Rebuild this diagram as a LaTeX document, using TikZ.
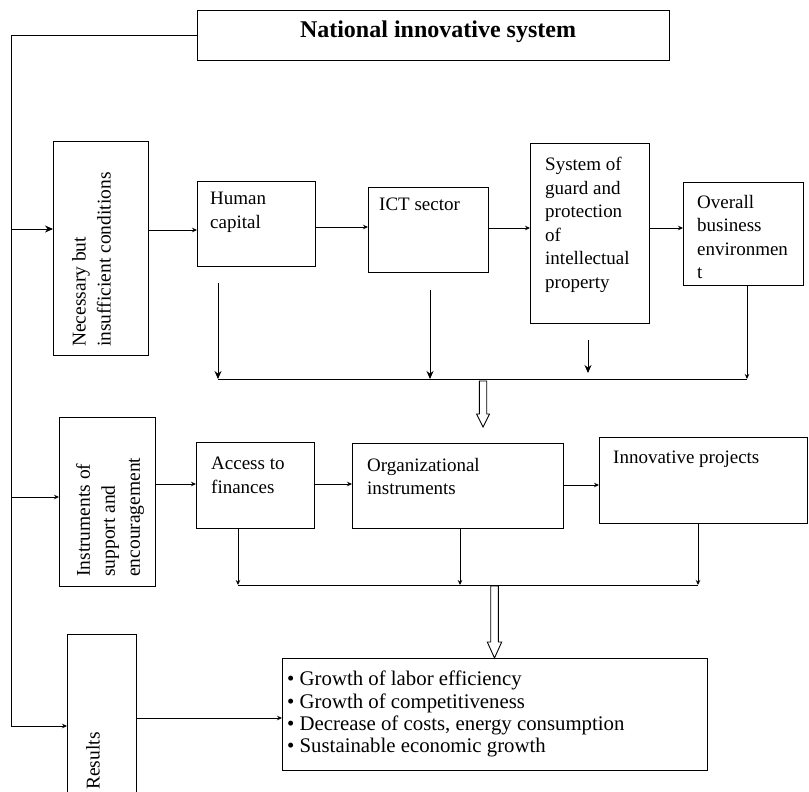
\documentclass[tikz,border=0pt]{standalone}
\usepackage{fontspec}
\setmainfont{Liberation Serif}
\usetikzlibrary{arrows.meta}
\begin{document}
\begin{tikzpicture}[x=1pt,y=-1pt,
  box/.style={draw, line width=0.9pt, inner sep=0pt, anchor=north west},
  txt/.style={anchor=north west, inner sep=0pt, align=left, font=\fontsize{19}{23.5}\selectfont},
  rtxt/.style={anchor=north west, inner sep=0pt, align=left, rotate=90, font=\fontsize{19.5}{25}\selectfont},
  arr/.style={line width=0.9pt, -{Stealth[length=5pt,width=4.5pt]}},
  bigarr/.style={line width=0.9pt, -{Stealth[length=8pt,width=7pt]}},
  ln/.style={line width=0.9pt},
  hollow/.style={line width=0.9pt, fill=white, line join=miter}]
\path[use as bounding box, clip] (0,0) rectangle (809,792);

% boxes
\node[box, anchor=center, minimum width=472pt, minimum height=50pt] (title) at (433,35) {};
\node[anchor=base, inner sep=0pt, font=\bfseries\fontsize{24}{28}\selectfont] (titletext) at (438,38) {National innovative system};

\node[box, minimum width=95pt, minimum height=214pt] (nec) at (53,141) {};
\node[rtxt] (nect) at (72,347) {Necessary but\\insufficient conditions};

\node[box, minimum width=118pt, minimum height=85pt] (hc) at (197,181) {};
\node[txt] (hct) at (210,192) {Human\\capital};

\node[box, minimum width=120pt, minimum height=85pt] (ict) at (368,187) {};
\node[txt] (ictt) at (379,198) {ICT sector};

\node[box, minimum width=119pt, minimum height=180pt] (sys) at (530,143) {};
\node[txt] (syst) at (545,157) {System of\\guard and\\protection\\of\\intellectual\\property};

\node[box, minimum width=120pt, minimum height=103pt] (obe) at (683,182) {};
\node[txt] (obet) at (697,195) {Overall\\business\\environmen\\t};

\node[box, minimum width=96pt, minimum height=169pt] (ins) at (59,417) {};
\node[rtxt] (inst) at (76,577) {Instruments of\\support and\\encouragement};

\node[box, minimum width=118pt, minimum height=86pt] (acc) at (196,442) {};
\node[txt] (acct) at (211,457) {Access to\\finances};

\node[box, minimum width=211pt, minimum height=85pt] (org) at (352,443) {};
\node[txt] (orgt) at (367,458) {Organizational\\instruments};

\node[box, minimum width=208pt, minimum height=86pt] (inn) at (599,437) {};
\node[txt] (innt) at (613,451) {Innovative projects};

\node[box, minimum width=69pt, minimum height=175pt] (res) at (67,634) {};
\node[rtxt] (rest) at (86,790) {Results};

\node[box, minimum width=425pt, minimum height=112pt] (out) at (282,658) {};
\node[anchor=north west, inner sep=0pt, align=left, font=\fontsize{20.8}{22.3}\selectfont] (outt) at (287,671)
  {\textbullet\ Growth of labor efficiency\\
   \textbullet\ Growth of competitiveness\\
   \textbullet\ Decrease of costs, energy consumption\\
   \textbullet\ Sustainable economic growth};

% left spine
\coordinate (sptop) at (11,35);
\coordinate (spbot) at (11,726);
\draw[ln] (title.west) -- (sptop) -- (spbot);
\draw[bigarr] (11,229) -- (nec.west |- 0,229);
\draw[arr] (11,497) -- (ins.west |- 0,497);
\draw[arr] (spbot) -- (res.west |- spbot);

% first row
\draw[arr] (nec.east |- 0,230) -- (hc.west |- 0,230);
\draw[arr] (hc.east |- 0,227) -- (ict.west |- 0,227);
\draw[arr] (ict.east |- 0,228) -- (sys.west |- 0,228);
\draw[arr] (sys.east |- 0,228) -- (obe.west |- 0,228);

% first collector
\coordinate (busAl) at (218,379);
\coordinate (busAr) at (747,379);
\draw[bigarr] (218,283) -- (busAl);
\draw[bigarr] (430,290) -- (430,379);
\draw[bigarr] (588,340) -- (588,373);
\draw[arr] (obe.south -| busAr) -- (busAr);
\draw[ln] (busAl) -- (busAr);

% hollow arrow 1
\draw[hollow] (479.3,381) -- (486.7,381) -- (486.7,414) -- (489.5,414) -- (483,427) -- (476.5,414) -- (479.3,414) -- cycle;

% second row
\draw[arr] (ins.east |- 0,484) -- (acc.west |- 0,484);
\draw[arr] (acc.east |- 0,484) -- (org.west |- 0,484);
\draw[arr] (org.east |- 0,485) -- (inn.west |- 0,485);

% second collector
\coordinate (busBl) at (238,585);
\coordinate (busBm) at (460,585);
\coordinate (busBr) at (698,585);
\draw[arr] (acc.south -| busBl) -- (busBl);
\draw[arr] (org.south -| busBm) -- (busBm);
\draw[arr] (inn.south -| busBr) -- (busBr);
\draw[ln] (busBl) -- (busBr);

% hollow arrow 2
\draw[hollow] (490.7,586) -- (498.3,586) -- (498.3,642) -- (501.7,642) -- (494.5,658) -- (487.3,642) -- (490.7,642) -- cycle;

% results
\draw[arr] (res.east |- 0,718) -- (out.west |- 0,718);
\end{tikzpicture}
\end{document}
